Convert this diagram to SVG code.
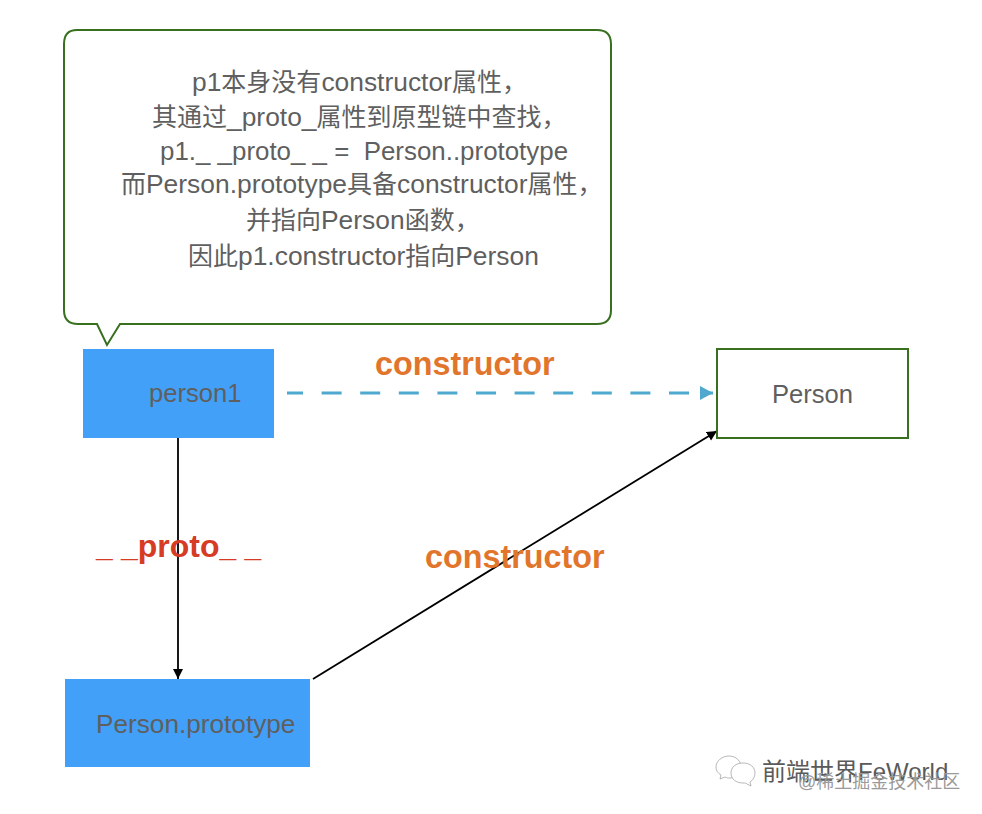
<svg xmlns="http://www.w3.org/2000/svg" width="982" height="814" viewBox="0 0 982 814">
<style>
text{font-family:"Liberation Sans","Noto Sans CJK SC",sans-serif}
.t{font-size:26.4px;fill:#5f5f5f}
.z{font-size:25px}
.n{font-size:25.6px;fill:#5f5f5f}
.o{font-size:32.3px;font-weight:bold;fill:#e2752c}
.b{fill:#42a0f8}
.g{fill:#fff;stroke:#38701f;stroke-width:2}
</style>
<defs>
<marker id="k" markerUnits="userSpaceOnUse" markerWidth="12" markerHeight="12" refX="10" refY="5" orient="auto"><path d="M0 0L10 5L0 10Z" fill="#000"/></marker>
<marker id="c" markerUnits="userSpaceOnUse" markerWidth="14" markerHeight="14" refX="13" refY="7" orient="auto"><path d="M0 0L13 7L0 14Z" fill="#4fa9cf"/></marker>
</defs>
<rect width="982" height="814" fill="#fff"/>
<g id="connectors">
<path d="M287 393H713" fill="none" stroke="#4fa9cf" stroke-width="3" stroke-dasharray="20 18.6" stroke-dashoffset="4" marker-end="url(#c)"/>
<path d="M178 438V679" fill="none" stroke="#000" stroke-width="1.8" marker-end="url(#k)"/>
<path d="M313 679L717 431" fill="none" stroke="#000" stroke-width="1.8" marker-end="url(#k)"/>
</g>
<g id="callout">
<path class="g" d="M77 30H597Q611 30 611 44V310Q611 324 597 324H120L107 345L97 324H78Q64 324 64 310V44Q64 30 77 30Z"/>
<text class="t" x="192" y="91">p1<tspan class="z">本身没有</tspan>constructor<tspan class="z">属性，</tspan></text>
<text class="t" x="152" y="126"><tspan class="z">其通过</tspan>_proto_<tspan class="z">属性到原型链中查找，</tspan></text>
<text class="t" x="160" y="160" style="font-size:25.9px" xml:space="preserve">p1._ _proto_ _ =  Person..prototype</text>
<text class="t" x="121" y="193"><tspan class="z">而</tspan>Person.prototype<tspan class="z">具备</tspan>constructor<tspan class="z">属性，</tspan></text>
<text class="t" x="246" y="229"><tspan class="z">并指向</tspan>Person<tspan class="z">函数，</tspan></text>
<text class="t" x="188" y="265"><tspan class="z">因此</tspan>p1.constructor<tspan class="z">指向</tspan>Person</text>
</g>
<g id="person1">
<rect class="b" x="83" y="349" width="191" height="89"/>
<text class="n" x="149" y="402">person1</text>
</g>
<g id="person">
<rect class="g" x="717" y="349" width="191" height="89"/>
<text class="n" x="772" y="403">Person</text>
</g>
<g id="person-prototype">
<rect class="b" x="65" y="679" width="245" height="88"/>
<text class="n" x="96" y="733" style="font-size:26.2px">Person.prototype</text>
</g>
<g id="labels">
<text class="o" x="375" y="375">constructor</text>
<text class="o" x="425" y="568">constructor</text>
<text x="96" y="557" font-size="30" font-weight="bold" fill="#d63b25" xml:space="preserve">_ _<tspan font-size="32">proto</tspan>_ _</text>
</g>
<g id="watermark">
<g fill="#fff" stroke="#999" stroke-width="0.7">
<path d="M729 756c-7 0-13 5-13 11c0 4 2 6 5 8l-1 4l5-2c2 1 3 1 5 1c6 0 11-5 11-11s-5-11-12-11z"/>
<path d="M743 763c-7 0-12 4-12 10s5 10 12 10c2 0 3 0 4 1l4 2l-1-4c3-2 5-5 5-9c0-6-5-10-12-10z"/>
</g>
<text x="762" y="780" font-size="24" fill="#5a5a5a">前端世界FeWorld</text>
<text x="798" y="788" font-size="18" fill="#9a9a9a">@稀土掘金技术社区</text>
</g>
</svg>
